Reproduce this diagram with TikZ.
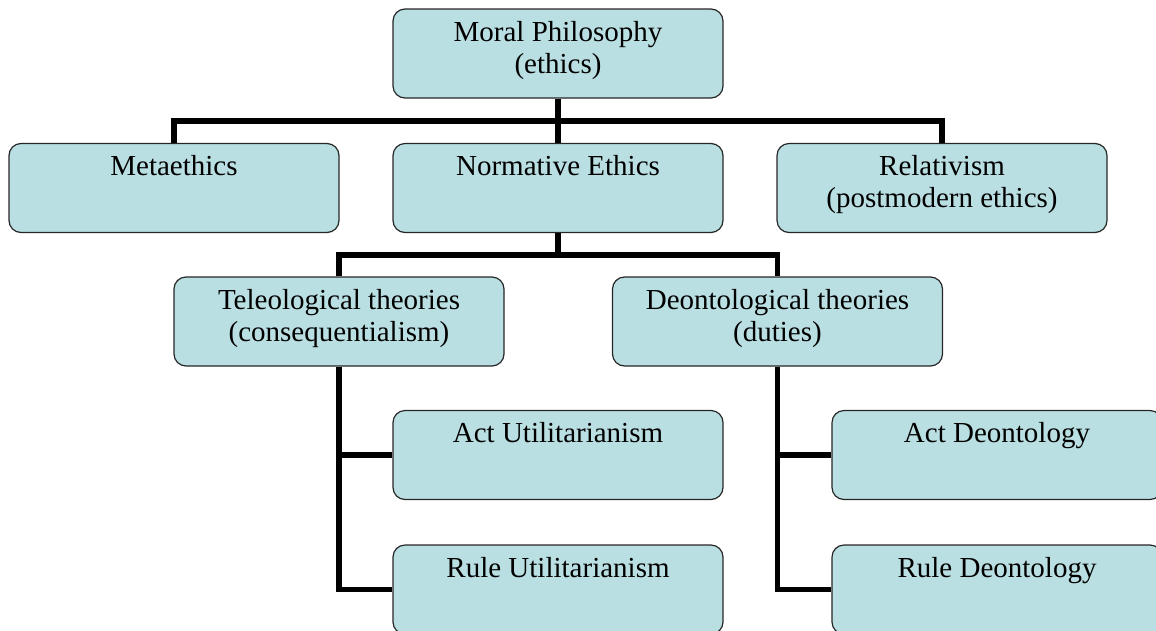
\documentclass[tikz,border=0pt]{standalone}
\usepackage{fontspec}
\setmainfont{Liberation Serif}
\definecolor{boxfill}{RGB}{186,223,226}
\tikzset{
  box/.style={draw=black!85, line width=1.2pt, fill=boxfill, rounded corners=12pt,
    minimum width=330pt, minimum height=89pt, inner sep=0pt},
  lbl/.style={anchor=base, inner sep=0pt, font=\fontsize{29}{32}\selectfont},
  conn/.style={line width=5.5pt, black}
}
\begin{document}
\begin{tikzpicture}[x=1pt,y=-1pt]
\useasboundingbox (0,0) rectangle (1156,630);
\clip (0,0) rectangle (1156,630);
% boxes
\node[box] (mp) at (558,53.5) {};
\node[box] (meta) at (174,188) {};
\node[box] (norm) at (558,188) {};
\node[box] (rel) at (942,188) {};
\node[box] (tel) at (339,321.5) {};
\node[box] (deon) at (777.5,321.5) {};
\node[box] (actu) at (558,455) {};
\node[box] (ruleu) at (558,589.5) {};
\node[box] (actd) at (997,455) {};
\node[box] (ruled) at (997,589.5) {};
% junctions
\coordinate (j1) at (558,121);
\coordinate (j2) at (558,255);
% connectors
\draw[conn] (meta.north) |- (j1) -| (rel.north);
\draw[conn] (mp.south) -- (norm.north);
\draw[conn] (tel.north) |- (j2) -| (deon.north);
\draw[conn] (norm.south) -- (j2);
\draw[conn] (tel.south) |- (ruleu.west);
\draw[conn] (tel.south) |- (actu.west);
\draw[conn] (deon.south) |- (ruled.west);
\draw[conn] (deon.south) |- (actd.west);
% labels
\node[lbl] (mpt) at ([yshift=-33pt]mp.north) {\begin{tabular}[t]{@{}c@{}}Moral Philosophy\\(ethics)\end{tabular}};
\node[lbl] (metat) at ([yshift=-33pt]meta.north) {\begin{tabular}[t]{@{}c@{}}Metaethics\end{tabular}};
\node[lbl] (normt) at ([yshift=-33pt]norm.north) {\begin{tabular}[t]{@{}c@{}}Normative Ethics\end{tabular}};
\node[lbl] (relt) at ([yshift=-33pt]rel.north) {\begin{tabular}[t]{@{}c@{}}Relativism\\(postmodern ethics)\end{tabular}};
\node[lbl] (telt) at ([yshift=-33pt]tel.north) {\begin{tabular}[t]{@{}c@{}}Teleological theories\\(consequentialism)\end{tabular}};
\node[lbl] (deont) at ([yshift=-33pt]deon.north) {\begin{tabular}[t]{@{}c@{}}Deontological theories\\(duties)\end{tabular}};
\node[lbl] (actut) at ([yshift=-33pt]actu.north) {\begin{tabular}[t]{@{}c@{}}Act Utilitarianism\end{tabular}};
\node[lbl] (ruleut) at ([yshift=-33pt]ruleu.north) {\begin{tabular}[t]{@{}c@{}}Rule Utilitarianism\end{tabular}};
\node[lbl] (actdt) at ([yshift=-33pt]actd.north) {\begin{tabular}[t]{@{}c@{}}Act Deontology\end{tabular}};
\node[lbl] (ruledt) at ([yshift=-33pt]ruled.north) {\begin{tabular}[t]{@{}c@{}}Rule Deontology\end{tabular}};
\end{tikzpicture}
\end{document}
